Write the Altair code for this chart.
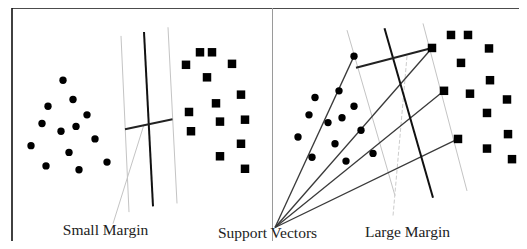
import altair as alt
import pandas as pd

# ---- data (diagram coordinates, image pixels: x to the right, y downward) ----
left_circles = [(63, 82), (73, 102), (48, 109), (87, 118), (42, 127), (76, 130), (61, 135),
                (95, 143), (31, 150), (69, 157), (46, 171), (79, 175), (107, 167)]
left_squares = [(200, 53), (212, 53), (186, 66), (232, 65), (207, 79), (241, 97), (216, 106),
                (189, 115), (220, 125), (245, 123), (191, 135), (241, 148), (220, 161), (245, 174)]
right_circles = [(354, 57), (339, 93), (315, 100), (354, 109), (309, 118), (342, 121), (328, 126),
                 (361, 134), (298, 141), (335, 148), (312, 162), (346, 166), (373, 158)]
right_squares = [(451, 35), (468, 35), (432, 48.5), (489, 49), (461, 64), (490, 82), (444, 93),
                 (470, 96), (507, 102), (487, 116), (458, 143), (508, 138), (487, 153), (512, 164)]

hyperplanes = [(144, 32, 153, 213), (384.5, 28, 433, 204)]
margin_bounds = [(121, 36, 129, 219), (168, 27, 177, 210),
                 (347, 30, 395, 202), (423, 23, 467, 197)]
margin_widths = [(125, 133, 172.5, 122.5), (356, 69, 432, 48.5)]
sv_origin = (275, 235)
sv_targets = [(354, 57), (432, 48.5), (444, 93), (458, 143)]
pointer_small = [(144, 128, 113, 231)]
pointer_large = [(407, 57, 393, 223)]
frame_black = [(12, 7, 527, 7), (12, 7, 12, 252)]
frame_divider = [(272.5, 7, 272.5, 252)]

labels = ["Small Margin", "Support Vectors", "Large Margin"]
label_x = [105.5, 267.5, 407.5]
label_y = [242.5, 245.5, 245]

# ---- chart ----
xs = alt.Scale(domain=[8, 519], nice=False, zero=False)
ys = alt.Scale(domain=[7, 249], nice=False, zero=False, reverse=True)


def seg_df(segs):
    return pd.DataFrame(segs, columns=["x", "y", "x2", "y2"])


def rules(segs, color, width, dash=None):
    kw = dict(color=color, strokeWidth=width)
    if dash:
        kw["strokeDash"] = dash
    return alt.Chart(seg_df(segs)).mark_rule(**kw).encode(
        x=alt.X("x:Q", scale=xs, axis=None),
        y=alt.Y("y:Q", scale=ys, axis=None),
        x2="x2:Q",
        y2="y2:Q",
    )


def pts(points):
    return pd.DataFrame(points, columns=["x", "y"])


sv_segs = [(sv_origin[0], sv_origin[1], tx, ty) for tx, ty in sv_targets]

circles = alt.Chart(pts(left_circles + right_circles)).mark_point(
    shape="circle", filled=True, size=54, color="black", opacity=1
).encode(x=alt.X("x:Q", scale=xs, axis=None), y=alt.Y("y:Q", scale=ys, axis=None))

squares = alt.Chart(pts(left_squares + right_squares)).mark_square(
    size=72, color="black", opacity=1
).encode(x=alt.X("x:Q", scale=xs, axis=None), y=alt.Y("y:Q", scale=ys, axis=None))

text = alt.Chart(pd.DataFrame({"t": labels, "x": label_x, "y": label_y})).mark_text(
    font="Liberation Serif", fontSize=15.5, color="#222", align="center", baseline="alphabetic"
).encode(x=alt.X("x:Q", scale=xs, axis=None), y=alt.Y("y:Q", scale=ys, axis=None), text="t:N")

chart = alt.layer(
    rules(frame_black, "#111", 1.6),
    rules(frame_divider, "#9a9a9a", 1),
    rules(margin_bounds, "#c4c4c4", 1),
    rules(pointer_small, "#c4c4c4", 1),
    rules(pointer_large, "#cccccc", 1, [4, 2]),
    rules(sv_segs, "#3a3a3a", 1.3),
    rules(hyperplanes, "#111", 2),
    rules(margin_widths, "#222", 2),
    circles,
    squares,
    text,
).properties(
    width=511, height=233, autosize="none", padding=0
).configure_view(stroke=None)

chart.save("out.html", embed_options={"renderer": "svg", "actions": False})
